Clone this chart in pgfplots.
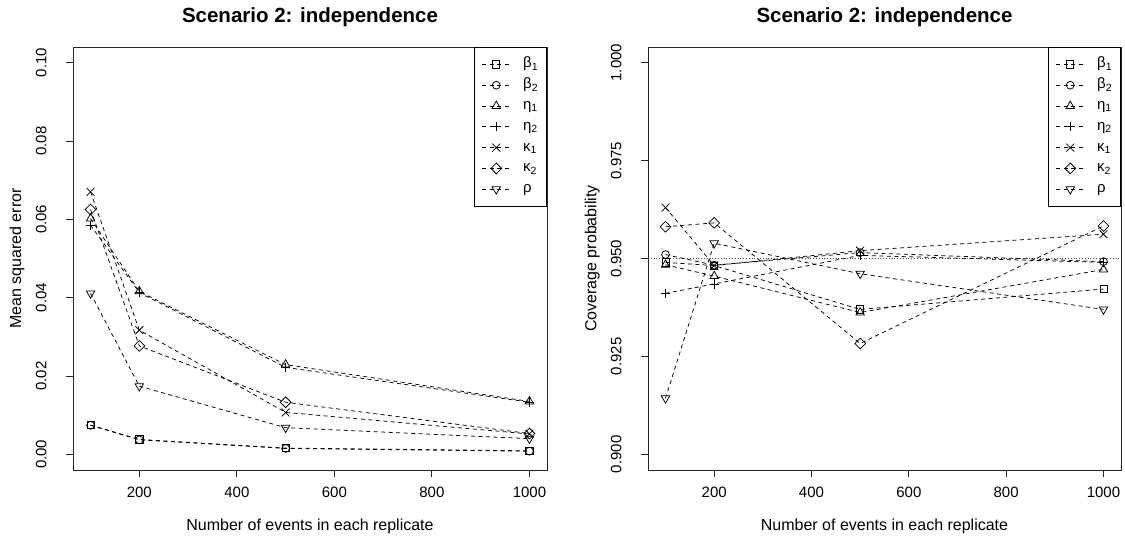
\documentclass[border=0pt]{standalone}
\usepackage{fontspec}
\setmainfont{Liberation Sans}
\usepackage{pgfplots}
\pgfplotsset{compat=1.18}

\pgfplotsset{
  ser/.style={black, line width=0.75pt, dash pattern=on 4pt off 3.5pt,
    mark=#1, mark options={solid, line width=0.75pt}},
  sq/.style={ser=square, mark size=3.6pt},
  ci/.style={ser=o, mark size=3.9pt},
  tri/.style={ser=triangle, mark size=4.9pt},
  pl/.style={ser=+, mark size=4.6pt},
  cr/.style={ser=x, mark size=5.6pt},
  di/.style={ser=square, mark size=3.8pt, mark options={solid, line width=0.75pt, rotate=45}},
  dn/.style={ser=triangle, mark size=4.9pt, mark options={solid, line width=0.75pt, rotate=180}},
  rbase/.style={
    scale only axis,
    anchor=south west,
    axis lines=box,
    tick pos=left,
    tick align=outside,
    major tick length=7pt,
    axis line style={line width=0.9pt, black!85},
    every tick/.style={line width=0.9pt, black!85},
    xmin=64, xmax=1036,
    xtick={200,400,600,800,1000},
    /pgf/number format/assume math mode=true,
    ticklabel style={font=\fontsize{15}{18}\selectfont},
    xticklabel style={anchor=north, yshift=-6pt, /pgf/number format/1000 sep={}},
    yticklabel style={rotate=90, anchor=south, yshift=16pt},
    label style={font=\fontsize{16}{19}\selectfont},
    xlabel style={at={(axis description cs:0.5,0)}, anchor=center, yshift=-56pt},
    title style={font=\bfseries\fontsize{20.5}{24}\selectfont, at={(axis description cs:0.5,1)}, anchor=center, yshift=24pt},
    xlabel={Number of events in each replicate},
    title={Scenario 2: independence},
    clip=false,
    legend cell align=left,
    legend style={at={(1,1)}, anchor=north east, draw=black, line width=0.8pt,
      font=\fontsize{15}{18}\selectfont,
      inner xsep=7pt, inner ysep=8pt, row sep=2.8pt,
      nodes={inner sep=1.5pt, text height=11pt, text depth=4pt},
      /tikz/every odd column/.append style={column sep=11pt}},
    legend image code/.code={
      \draw[mark repeat=2, mark phase=2]
        plot coordinates {(0pt,0pt) (14pt,0pt) (28pt,0pt)};
    },
  },
}

\begin{document}
\begin{tikzpicture}[x=1pt,y=1pt]
\path[use as bounding box] (0,0) rectangle (1125,543);

% Left panel: mean squared error
\begin{axis}[rbase,
  at={(73pt,73pt)}, width=474pt, height=423pt,
  ymin=-0.004, ymax=0.104,
  ytick={0,0.02,0.04,0.06,0.08,0.10},
  yticklabel style={/pgf/number format/.cd, fixed, fixed zerofill, precision=2},
  ylabel={Mean squared error},
  ylabel style={at={(axis description cs:-0.118,0.5)}, anchor=center},
]
\addplot[sq] coordinates {(100,0.0075) (200,0.0038) (500,0.0016) (1000,0.0009)};
\addlegendentry{β\textsubscript{1}}
\addplot[ci] coordinates {(100,0.0074) (200,0.0037) (500,0.0015) (1000,0.0008)};
\addlegendentry{β\textsubscript{2}}
\addplot[tri] coordinates {(100,0.0602) (200,0.0416) (500,0.0229) (1000,0.0135)};
\addlegendentry{η\textsubscript{1}}
\addplot[pl] coordinates {(100,0.0585) (200,0.0413) (500,0.0222) (1000,0.0133)};
\addlegendentry{η\textsubscript{2}}
\addplot[cr] coordinates {(100,0.0670) (200,0.0317) (500,0.0107) (1000,0.0052)};
\addlegendentry{κ\textsubscript{1}}
\addplot[di] coordinates {(100,0.0625) (200,0.0277) (500,0.0133) (1000,0.0053)};
\addlegendentry{κ\textsubscript{2}}
\addplot[dn] coordinates {(100,0.0411) (200,0.0174) (500,0.0068) (1000,0.0040)};
\addlegendentry{ρ}
\end{axis}

% Right panel: coverage probability
\begin{axis}[rbase,
  at={(648pt,73pt)}, width=473pt, height=423pt,
  ymin=0.896, ymax=1.004,
  ytick={0.900,0.925,0.950,0.975,1.000},
  yticklabel style={/pgf/number format/.cd, fixed, fixed zerofill, precision=3},
  ylabel={Coverage probability},
  ylabel style={at={(axis description cs:-0.118,0.5)}, anchor=center},
]
\addplot[forget plot, dotted, line width=0.8pt, black!70, mark=none] coordinates {(64,0.95) (1036,0.95)};
\addplot[sq] coordinates {(100,0.9490) (200,0.9482) (500,0.9370) (1000,0.9422)};
\addlegendentry{β\textsubscript{1}}
\addplot[ci] coordinates {(100,0.9510) (200,0.9483) (500,0.9515) (1000,0.9492)};
\addlegendentry{β\textsubscript{2}}
\addplot[tri] coordinates {(100,0.9484) (200,0.9455) (500,0.9362) (1000,0.9472)};
\addlegendentry{η\textsubscript{1}}
\addplot[pl] coordinates {(100,0.9411) (200,0.9435) (500,0.9508) (1000,0.9490)};
\addlegendentry{η\textsubscript{2}}
\addplot[cr] coordinates {(100,0.9630) (200,0.9482) (500,0.9520) (1000,0.9562)};
\addlegendentry{κ\textsubscript{1}}
\addplot[di] coordinates {(100,0.9581) (200,0.9591) (500,0.9283) (1000,0.9583)};
\addlegendentry{κ\textsubscript{2}}
\addplot[dn] coordinates {(100,0.9143) (200,0.9539) (500,0.9461) (1000,0.9370)};
\addlegendentry{ρ}
\end{axis}
\end{tikzpicture}
\end{document}
